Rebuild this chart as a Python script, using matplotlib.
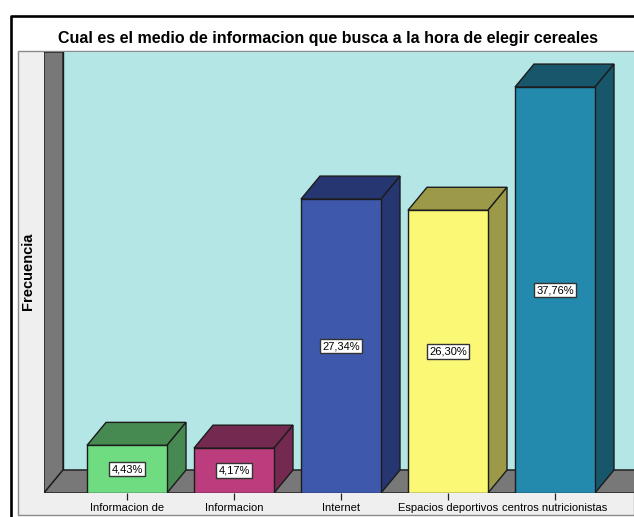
import matplotlib
matplotlib.use("Agg")
import matplotlib.pyplot as plt
from matplotlib.patches import Polygon, Rectangle
from matplotlib.lines import Line2D
from matplotlib.transforms import Bbox

categories = ["Informacion de\nProductos", "Informacion\nNutricional", "Internet",
              "Espacios deportivos", "centros nutricionistas"]
percentages = [4.43, 4.17, 27.34, 26.30, 37.76]
labels = ["4,43%", "4,17%", "27,34%", "26,30%", "37,76%"]
front_colors = ["#70DC82", "#BB3D7D", "#3E59AC", "#FBF875", "#248AAD"]
side_colors = ["#468A52", "#742A50", "#263670", "#9C9A48", "#17566B"]

W, H = 634, 517
plt.rcParams['font.family'] = ['Liberation Sans', 'DejaVu Sans']

fig = plt.figure(figsize=(W / 100, H / 100), dpi=100, facecolor="white")

# figure pixel helper, y measured from the top
def px(x, y):
    return x / W, 1 - y / H

# outer frame and the grey panel, kept behind the axes
fig.add_artist(Rectangle(px(18, 515), 616 / W, 464 / H, facecolor="#EFEFEF", edgecolor="#8a8a8a", lw=1.0, zorder=-2))
fig.add_artist(Line2D([11 / W, 11 / W, 1], [0, 1 - 15.5 / H, 1 - 15.5 / H], color="black", lw=1.9, zorder=-1))

left, right, top, bottom = 44, 634, 52, 493
ax = fig.add_axes([left / W, 1 - bottom / H, (right - left) / W, (bottom - top) / H])
ax.patch.set_alpha(0)
px_per_cat = 107.0
px_per_pct = 10.75
ax.set_xlim((left - 127) / px_per_cat, (right - 127) / px_per_cat)
ax.set_ylim(0, (bottom - top) / px_per_pct)

dx = 19 / px_per_cat
dy = 23 / px_per_pct
bar_w = 80 / px_per_cat
xmin, xmax = ax.get_xlim()
ymax = ax.get_ylim()[1]
edge = "#1c1c1c"

# back wall, left wall and floor
ax.add_patch(Rectangle((xmin + dx, dy), xmax - xmin, ymax, facecolor="#B5E6E6", edgecolor=edge, lw=1, zorder=1))
ax.add_patch(Polygon([(xmin, 0), (xmin + dx, dy), (xmin + dx, ymax), (xmin, ymax)],
                     facecolor="#787878", edgecolor=edge, lw=1, zorder=2))
ax.add_patch(Polygon([(xmin, 0), (xmin + dx, dy), (xmax + 1, dy), (xmax + 1, 0)],
                     facecolor="#787878", edgecolor=edge, lw=1, zorder=2))

positions = list(range(len(categories)))
ax.bar(positions, percentages, width=bar_w, color=front_colors, edgecolor=edge, linewidth=1, zorder=4)

for p, v, side, lab in zip(positions, percentages, side_colors, labels):
    l, r = p - bar_w / 2, p + bar_w / 2
    ax.add_patch(Polygon([(l, v), (l + dx, v + dy), (r + dx, v + dy), (r, v)],
                         facecolor=side, edgecolor=edge, lw=1, zorder=3))
    ax.add_patch(Polygon([(r, 0), (r + dx, dy), (r + dx, v + dy), (r, v)],
                         facecolor=side, edgecolor=edge, lw=1, zorder=3))
    ax.text(p, v / 2, lab, ha="center", va="center", fontsize=8, color="black", zorder=6,
            bbox=dict(boxstyle="square,pad=0.2", facecolor="white", edgecolor="#333333", lw=1.0))

for s in ax.spines.values():
    s.set_visible(False)
ax.set_yticks([])
ax.set_xticks(positions)
ax.set_xticklabels(categories, fontsize=8, linespacing=1.1, va="top")
ax.tick_params(axis="x", length=5, width=0.9, color="#222222", pad=2)

# long labels get cut by the panel edge like in the original
fig.canvas.draw()
clip = Bbox.from_extents(0, H - 514, W, H)
for t in ax.get_xticklabels():
    t.set_clip_box(clip)
    t.set_clip_on(True)

fig.text(327.5 / W, 1 - 38 / H, "Cual es el medio de informacion que busca a la hora de elegir cereales",
         ha="center", va="center", fontsize=11.5, fontweight="bold", color="black")
fig.text(28 / W, 1 - 271 / H, "Frecuencia", rotation=90, ha="center", va="center",
         fontsize=10.5, fontweight="bold", color="black")

fig.savefig("out.png", dpi=100)
